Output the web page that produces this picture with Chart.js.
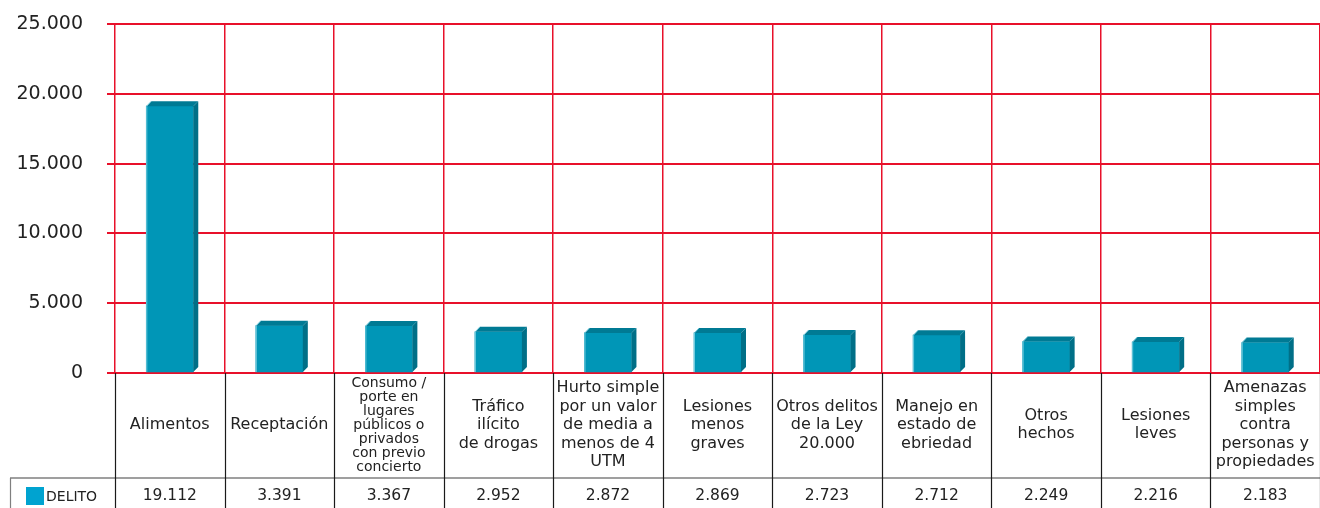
<!DOCTYPE html>
<html>
<head>
<meta charset="utf-8">
<script src="https://cdn.jsdelivr.net/npm/chart.js@4/dist/chart.umd.min.js"></script>
<style>
  html, body { margin: 0; padding: 0; background: #fff; }
  #wrap { width: 1320px; height: 508px; }
</style>
</head>
<body>
<div id="wrap"><canvas id="chart" width="1320" height="508"></canvas></div>
<script>
const categories = [
  ['Alimentos'],
  ['Receptación'],
  ['Consumo /', 'porte en', 'lugares', 'públicos o', 'privados', 'con previo', 'concierto'],
  ['Tráfico', 'ilícito', 'de drogas'],
  ['Hurto simple', 'por un valor', 'de media a', 'menos de 4', 'UTM'],
  ['Lesiones', 'menos', 'graves'],
  ['Otros delitos', 'de la Ley', '20.000'],
  ['Manejo en', 'estado de', 'ebriedad'],
  ['Otros', 'hechos'],
  ['Lesiones', 'leves'],
  ['Amenazas', 'simples', 'contra', 'personas y', 'propiedades']
]
const seriesName = 'DELITO'
const delito = [19112, 3391, 3367, 2952, 2872, 2869, 2723, 2712, 2249, 2216, 2183]
const yTicks = [0, 5000, 10000, 15000, 20000, 25000]

const FONT = '"DejaVu Sans", sans-serif'
const fmt = v => String(v).replace(/\B(?=(\d{3})+(?!\d))/g, '.')

// 3D faces on top of the flat Chart.js bars
const bars3d = {
  id: 'bars3d',
  afterDatasetsDraw(chart) {
    const ctx = chart.ctx
    const d = 5
    chart.getDatasetMeta(0).data.forEach(bar => {
      const { x, y, width, base } = bar.getProps(['x', 'y', 'width', 'base'], true)
      const l = x - width / 2, r = x + width / 2
      ctx.save()
      ctx.fillStyle = '#006f87'
      ctx.beginPath()
      ctx.moveTo(r, y); ctx.lineTo(r + d, y - d); ctx.lineTo(r + d, base - d); ctx.lineTo(r, base)
      ctx.closePath(); ctx.fill()
      ctx.fillStyle = '#007a94'
      ctx.beginPath()
      ctx.moveTo(l, y); ctx.lineTo(l + d, y - d); ctx.lineTo(r + d, y - d); ctx.lineTo(r, y)
      ctx.closePath(); ctx.fill()
      ctx.strokeStyle = 'rgba(140,215,230,0.8)'
      ctx.lineWidth = 1
      ctx.beginPath()
      ctx.moveTo(l + 0.5, base); ctx.lineTo(l + 0.5, y); ctx.lineTo(l + d, y - d)
      ctx.stroke()
      ctx.restore()
    })
  }
}

// data table under the plot
const dataTable = {
  id: 'dataTable',
  afterDraw(chart) {
    const ctx = chart.ctx
    const xs = chart.scales.x
    const area = chart.chartArea
    const n = categories.length
    const step = (area.right - area.left) / n
    const rowTop = area.bottom
    const rowMid = 478
    const bottom = chart.height
    ctx.save()
    ctx.strokeStyle = '#7f7f7f'
    ctx.lineWidth = 1.5
    ctx.beginPath(); ctx.moveTo(10, rowMid); ctx.lineTo(area.right, rowMid); ctx.stroke()
    ctx.strokeStyle = '#1a1a1a'
    ctx.lineWidth = 1.2
    for (let i = 0; i <= n; i++) {
      const bx = Math.round(area.left + i * step) + 0.5
      ctx.beginPath(); ctx.moveTo(bx, rowTop); ctx.lineTo(bx, bottom); ctx.stroke()
    }
    ctx.strokeStyle = '#7f7f7f'
    ctx.beginPath(); ctx.moveTo(10.5, rowMid); ctx.lineTo(10.5, bottom); ctx.stroke()
    // category labels
    ctx.fillStyle = '#222'
    ctx.textAlign = 'center'
    ctx.textBaseline = 'middle'
    categories.forEach((lines, i) => {
      const cx = xs.getPixelForValue(i)
      const fs = lines.length > 6 ? 14 : 16
      const lh = Math.min(18.5, 98 / lines.length)
      ctx.font = fs + 'px ' + FONT
      const top = 425 - (lines.length - 1) * lh / 2
      lines.forEach((t, j) => ctx.fillText(t, cx, top + j * lh))
    })
    // values
    ctx.font = '15.5px ' + FONT
    delito.forEach((v, i) => ctx.fillText(fmt(v), xs.getPixelForValue(i), 496))
    // legend key
    ctx.fillStyle = '#00a3d0'
    ctx.fillRect(26, 487, 18, 18)
    ctx.fillStyle = '#222'
    ctx.textAlign = 'left'
    ctx.font = '14px ' + FONT
    ctx.fillText(seriesName, 46, 497)
    ctx.restore()
  }
}

new Chart(document.getElementById('chart'), {
  type: 'bar',
  data: {
    labels: categories,
    datasets: [{
      label: seriesName,
      data: delito,
      backgroundColor: '#0096b7',
      barThickness: 47,
      borderWidth: 0
    }]
  },
  options: {
    responsive: false,
    animation: false,
    devicePixelRatio: 1,
    layout: { padding: { top: 24, right: 0, bottom: 135, left: 0 } },
    plugins: { legend: { display: false }, tooltip: { enabled: false } },
    scales: {
      x: {
        offset: true,
        grid: { offset: true, color: '#e8102a', lineWidth: 1.5, drawTicks: false },
        border: { color: '#e8102a', width: 1.5 },
        ticks: { display: false },
        afterFit: s => { s.height = 0 }
      },
      y: {
        min: 0,
        max: 25000,
        afterBuildTicks: s => { s.ticks = yTicks.map(v => ({ value: v })) },
        grid: { color: '#e8102a', lineWidth: 2, tickLength: 8 },
        border: { display: false },
        ticks: {
          padding: 24,
          color: '#222',
          font: { family: FONT, size: 19 },
          callback: v => fmt(v)
        },
        afterFit: s => { s.width = 115; s.paddingTop = 0; s.paddingBottom = 0 }
      }
    }
  },
  plugins: [bars3d, dataTable]
})
</script>
</body>
</html>
